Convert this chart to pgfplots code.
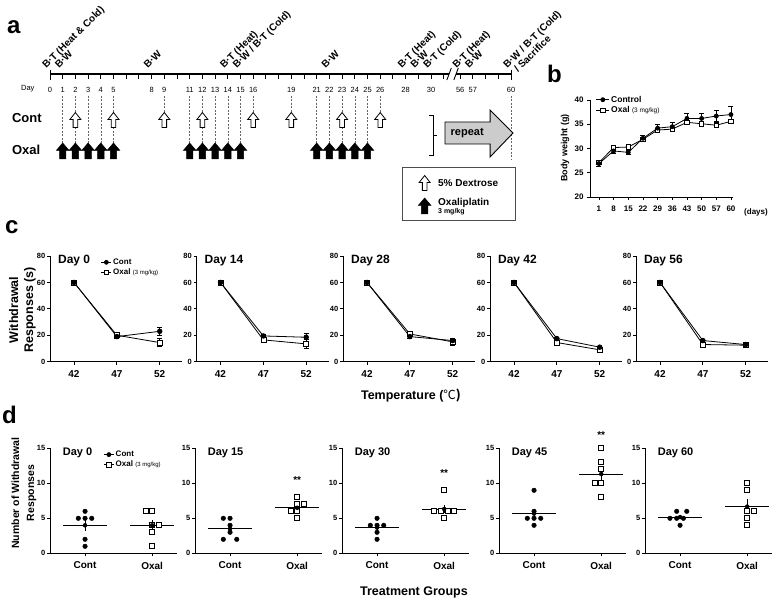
\documentclass[border=0pt]{standalone}
\usepackage{pgfplots}
\pgfplotsset{compat=1.18}
\usepackage{fontspec}
\setmainfont{Liberation Sans}
\newfontfamily\cjk{Noto Sans CJK SC}
\newcommand\fs[1]{\fontsize{#1}{#1}\selectfont}

\pgfdeclareplotmark{contarrow}{%
  \pgfpathmoveto{\pgfqpoint{0pt}{7.5pt}}%
  \pgfpathlineto{\pgfqpoint{5.5pt}{0.5pt}}%
  \pgfpathlineto{\pgfqpoint{2.3pt}{0.5pt}}%
  \pgfpathlineto{\pgfqpoint{2.3pt}{-7.5pt}}%
  \pgfpathlineto{\pgfqpoint{-2.3pt}{-7.5pt}}%
  \pgfpathlineto{\pgfqpoint{-2.3pt}{0.5pt}}%
  \pgfpathlineto{\pgfqpoint{-5.5pt}{0.5pt}}%
  \pgfpathclose\pgfusepathqfillstroke}
\pgfdeclareplotmark{oxalarrow}{%
  \pgfpathmoveto{\pgfqpoint{0pt}{8pt}}%
  \pgfpathlineto{\pgfqpoint{6.4pt}{0.5pt}}%
  \pgfpathlineto{\pgfqpoint{3.2pt}{0.5pt}}%
  \pgfpathlineto{\pgfqpoint{3.2pt}{-8pt}}%
  \pgfpathlineto{\pgfqpoint{-3.2pt}{-8pt}}%
  \pgfpathlineto{\pgfqpoint{-3.2pt}{0.5pt}}%
  \pgfpathlineto{\pgfqpoint{-6.4pt}{0.5pt}}%
  \pgfpathclose\pgfusepathqfillstroke}

\tikzset{ttl/.style={anchor=west, inner sep=0pt, font=\bfseries\fs{12}},
  rl/.style={rotate=45, anchor=base west, inner sep=0pt, font=\bfseries\fs{10}}}

\pgfplotsset{
 pr/.style={scale only axis, clip=false,
   axis x line*=bottom, axis y line*=left,
   axis line style={line width=0.8pt,-},
   every tick/.style={line width=0.8pt, black},
   tick align=outside, major tick length=3pt,
   /pgf/number format/assume math mode=true,
   legend cell align=left},
 cmk/.style={mark=*, mark size=2.3pt, mark options={solid, fill=black, draw=black}},
 omk/.style={mark=square*, mark size=2.5pt, mark options={solid, fill=white, draw=black, line width=0.7pt}},
 ebar/.style={error bars/y dir=both, error bars/y explicit,
   error bars/error bar style={line width=0.7pt, solid},
   error bars/error mark options={rotate=90, mark size=2.5pt, line width=0.7pt}},
 cl/.style={black, line width=0.8pt, cmk, forget plot, ebar},
 ol/.style={black, line width=0.8pt, omk, forget plot, ebar},
 smalleg/.style={legend image code/.code={\draw[mark repeat=2, mark phase=2, ##1] plot coordinates {(0pt,0pt)(5pt,0pt)(10pt,0pt)};}},
 cax/.style={pr, anchor=south west, width=132pt, height=105.7pt, xmin=39.2, xmax=54.6, ymin=0, ymax=80,
   xtick={42,47,52}, ytick={0,20,40,60,80},
   xticklabel style={font=\bfseries\fs{10}, yshift=-2pt},
   yticklabel style={font=\bfseries\fs{7.5}, inner sep=1.5pt}},
 dax/.style={pr, anchor=south west, width=127pt, height=105pt, xmin=0.478, xmax=2.37, ymin=0, ymax=15,
   xtick={1,2}, xticklabels={Cont,Oxal}, ytick={0,5,10,15},
   xticklabel style={font=\bfseries\fs{10}, yshift=-2pt},
   yticklabel style={font=\bfseries\fs{7.5}, inner sep=1.5pt}},
 dc/.style={only marks, cmk, forget plot},
 do/.style={only marks, omk, forget plot},
 meanl/.style={black, line width=0.8pt, no markers, forget plot},
 semb/.style={black, only marks, mark=none, forget plot, error bars/y dir=both, error bars/y explicit,
   error bars/error mark=none, error bars/error bar style={line width=0.8pt}},
}

\begin{document}
\begin{tikzpicture}
\path[use as bounding box] (0pt,0pt) rectangle (780pt,-602pt);

% ---------------- panel a ----------------
\begin{axis}[hide axis, x=12.7pt, y=1pt, xmin=-4, xmax=37, ymin=-235, ymax=0,
  anchor=north west, at={(-0.8pt,0pt)}, clip=false]
\pgfplotsinvokeforeach{1,2,3,4,5,11,12,13,14,15,21,22,23,24,25}{
  \draw[black!60, line width=0.6pt, dash pattern=on 2pt off 1.5pt] (axis cs:#1,-96) -- (axis cs:#1,-143);}
\pgfplotsinvokeforeach{9,16,19,26}{
  \draw[black!60, line width=0.6pt, dash pattern=on 2pt off 1.5pt] (axis cs:#1,-96) -- (axis cs:#1,-112);}
\draw[black!60, line width=0.6pt, dash pattern=on 2pt off 1.5pt] (axis cs:36.3,-96) -- (axis cs:36.3,-160);
\draw[line width=1.2pt] (axis cs:0,-74) -- (axis cs:31.4,-74);
\draw[line width=1.2pt] (axis cs:31.95,-74) -- (axis cs:36.3,-74);
\draw[line width=0.9pt] (axis cs:31.25,-80) -- (axis cs:31.6,-68);
\draw[line width=0.9pt] (axis cs:31.8,-80) -- (axis cs:32.15,-68);
\pgfplotsinvokeforeach{1,2,...,31}{\draw[line width=0.9pt] (axis cs:#1,-74) -- (axis cs:#1,-79);}
\pgfplotsinvokeforeach{32.3,33.3,34.3,35.3}{\draw[line width=0.9pt] (axis cs:#1,-74) -- (axis cs:#1,-79);}
\draw[line width=1pt] (axis cs:0,-70) -- (axis cs:0,-80);
\draw[line width=1pt] (axis cs:36.3,-70) -- (axis cs:36.3,-80);
\node[font=\fs{7.5}] at (axis cs:-1.75,-89) {Day};
\pgfplotsinvokeforeach{0,1,2,3,4,5,8,9,11,12,13,14,15,16,19,21,22,23,24,25,26,28,30}{
  \node[font=\fs{7.5}, inner sep=0pt] at (axis cs:#1,-90) {#1};}
\node[font=\fs{7.5}, inner sep=0pt] at (axis cs:32.3,-90) {56};
\node[font=\fs{7.5}, inner sep=0pt] at (axis cs:33.3,-90) {57};
\node[font=\fs{7.5}, inner sep=0pt] at (axis cs:36.3,-90) {60};
\node[rl] at (axis cs:-0.3,-69) {B·T (Heat \& Cold)};
\node[rl] at (axis cs:0.7,-69) {B·W};
\node[rl] at (axis cs:7.7,-69) {B·W};
\node[rl] at (axis cs:13.7,-69) {B·T (Heat)};
\node[rl] at (axis cs:14.7,-69) {B·W / B·T (Cold)};
\node[rl] at (axis cs:21.7,-69) {B·W};
\node[rl] at (axis cs:27.7,-69) {B·T (Heat)};
\node[rl] at (axis cs:28.7,-69) {B·W};
\node[rl] at (axis cs:29.7,-69) {B·T (Cold)};
\node[rl] at (axis cs:32.0,-69) {B·T (Heat)};
\node[rl] at (axis cs:33.0,-69) {B·W};
\node[rl] at (axis cs:36.0,-69) {B·W / B·T (Cold)};
\node[rl] at (axis cs:36.85,-73) {/ Sacrifice};
\node[anchor=west, inner sep=0pt, font=\bfseries\fs{13}] at (axis cs:-3,-118) {Cont};
\node[anchor=west, inner sep=0pt, font=\bfseries\fs{13}] at (axis cs:-3,-150) {Oxal};
\addplot[only marks, mark=contarrow, mark options={fill=white, draw=black, line width=0.8pt}]
  coordinates {(2,-120)(5,-120)(9,-120)(12,-120)(16,-120)(19,-120)(23,-120)(26,-120)};
\addplot[only marks, mark=oxalarrow, mark options={fill=black, draw=black, line width=0.5pt}]
  coordinates {(1,-151)(2,-151)(3,-151)(4,-151)(5,-151)(11,-151)(12,-151)(13,-151)(14,-151)(15,-151)(21,-151)(22,-151)(23,-151)(24,-151)(25,-151)};
\draw[line width=0.9pt] (axis cs:29.84,-115) -- (axis cs:30.16,-115) -- (axis cs:30.16,-155) -- (axis cs:29.84,-155);
\draw[line width=0.9pt] (axis cs:30.16,-135) -- (axis cs:30.5,-135);
\draw[fill=black!20, line width=0.9pt] (axis cs:31.1,-122) -- (axis cs:34.65,-122) -- (axis cs:34.65,-110) -- (axis cs:36.46,-133) -- (axis cs:34.65,-157) -- (axis cs:34.65,-144) -- (axis cs:31.1,-144) -- cycle;
\node[font=\bfseries\fs{11}] at (axis cs:32.85,-133) {repeat};
\draw[line width=0.8pt, black!70] (axis cs:27.77,-167) rectangle (axis cs:36.61,-220);
\addplot[only marks, mark=contarrow, mark options={fill=white, draw=black, line width=0.8pt}] coordinates {(29.5,-183)};
\addplot[only marks, mark=oxalarrow, mark options={fill=black, draw=black, line width=0.5pt}] coordinates {(29.5,-206)};
\node[anchor=west, inner sep=0pt, font=\bfseries\fs{10}] at (axis cs:30.55,-183) {5\% Dextrose};
\node[anchor=base west, inner sep=0pt, font=\bfseries\fs{10}] at (axis cs:30.55,-206) {Oxaliplatin};
\node[anchor=base west, inner sep=0pt, font=\bfseries\fs{7}] at (axis cs:30.55,-214) {3 mg/kg};
\end{axis}

% ---------------- panel b ----------------
\begin{axis}[pr, anchor=south west, at={(590pt,-197pt)}, width=143pt, height=97pt,
  xmin=-0.61, xmax=9.14, ymin=20, ymax=40, ytick={20,25,30,35,40},
  xtick={0,1,2,3,4,5,6,7,8,9}, xticklabels={1,8,15,22,29,36,43,50,57,60},
  ticklabel style={font=\bfseries\fs{8}}, xticklabel style={yshift=-2pt},
  legend image code/.code={\draw[mark repeat=2, mark phase=2, #1] plot coordinates {(0pt,0pt)(6.5pt,0pt)(13pt,0pt)};},
  legend style={at={(0.04,1.06)}, anchor=north west, draw=none, fill=none, font=\bfseries\fs{8.5}, inner sep=0pt, row sep=0pt, nodes={inner sep=1.5pt}}]
\addlegendimage{black, line width=0.8pt, mark=*, mark size=2pt, mark options={fill=black}}
\addlegendentry{Control}
\addlegendimage{black, line width=0.8pt, mark=square*, mark size=2.2pt, mark options={fill=white}}
\addlegendentry{Oxal {\fs{6.5}\mdseries(3 mg/kg)}}
\addplot[ol, mark size=2.2pt] coordinates {(0,27.1)+-(0,0.3) (1,30.2)+-(0,0.3) (2,30.3)+-(0,0.3) (3,31.9)+-(0,0.3) (4,33.8)+-(0,0.4) (5,34.0)+-(0,0.4) (6,35.4)+-(0,0.4) (7,35.1)+-(0,0.4) (8,34.8)+-(0,0.5) (9,35.6)+-(0,0.5)};
\addplot[cl, mark size=2pt] coordinates {(0,26.9)+-(0,0.5) (1,29.5)+-(0,0.5) (2,29.2)+-(0,0.4) (3,32.1)+-(0,0.7) (4,34.2)+-(0,0.8) (5,34.5)+-(0,0.8) (6,36.2)+-(0,1.0) (7,36.2)+-(0,1.0) (8,36.7)+-(0,1.2) (9,37.0)+-(0,1.6)};
\end{axis}
\node[font=\bfseries\fs{8}] at (756pt,-212pt) {(days)};
\node[rotate=90, font=\bfseries\fs{9}] at (565pt,-148pt) {Body weight (g)};

% ---------------- panel c ----------------
\begin{axis}[cax, at={(50pt,-361.7pt)}, smalleg,
  legend style={at={(0.385,0.99)}, anchor=north west, draw=none, fill=none, font=\bfseries\fs{8}, inner sep=0pt, row sep=0pt, nodes={inner sep=1.5pt}}]
\addlegendimage{black, line width=0.7pt, mark=*, mark size=2pt, mark options={fill=black}}
\addlegendentry{Cont}
\addlegendimage{black, line width=0.7pt, mark=square*, mark size=2.2pt, mark options={fill=white}}
\addlegendentry{Oxal {\fs{6}\mdseries(3 mg/kg)}}
\addplot[ol] coordinates {(42,60)+-(0,0) (47,20)+-(0,1) (52,14.5)+-(0,3)};
\addplot[cl] coordinates {(42,60)+-(0,0) (47,19)+-(0,1.5) (52,23)+-(0,3)};
\node[ttl] at (rel axis cs:0.06,0.955) {Day 0};
\end{axis}
\begin{axis}[cax, at={(196.5pt,-361.7pt)}]
\addplot[ol] coordinates {(42,60)+-(0,0) (47,16.5)+-(0,1.5) (52,13.5)+-(0,3.5)};
\addplot[cl] coordinates {(42,60)+-(0,0) (47,19.5)+-(0,1.5) (52,18.5)+-(0,3)};
\node[ttl] at (rel axis cs:0.06,0.955) {Day 14};
\end{axis}
\begin{axis}[cax, at={(343pt,-361.7pt)}]
\addplot[ol] coordinates {(42,60)+-(0,0) (47,21)+-(0,1) (52,15)+-(0,2.5)};
\addplot[cl] coordinates {(42,60)+-(0,0) (47,19)+-(0,1) (52,16)+-(0,1.5)};
\node[ttl] at (rel axis cs:0.06,0.955) {Day 28};
\end{axis}
\begin{axis}[cax, at={(490pt,-361.7pt)}]
\addplot[ol] coordinates {(42,60)+-(0,0) (47,14.5)+-(0,1) (52,9)+-(0,1)};
\addplot[cl] coordinates {(42,60)+-(0,0) (47,17.5)+-(0,1) (52,11)+-(0,0.8)};
\node[ttl] at (rel axis cs:0.06,0.955) {Day 42};
\end{axis}
\begin{axis}[cax, at={(636pt,-361.7pt)}]
\addplot[ol] coordinates {(42,60)+-(0,0) (47,13)+-(0,1) (52,12.5)+-(0,0.8)};
\addplot[cl] coordinates {(42,60)+-(0,0) (47,16)+-(0,1) (52,13)+-(0,0.8)};
\node[ttl] at (rel axis cs:0.06,0.955) {Day 56};
\end{axis}
\node[rotate=90, align=center, font=\bfseries\fontsize{12.5}{15}\selectfont] at (22.5pt,-310pt) {Withdrawal\\Responses (s)};
\node[font=\bfseries\fs{12.5}] at (411pt,-396pt) {Temperature (\cjk\mdseries ℃\bfseries)};

% ---------------- panel d ----------------
\begin{axis}[dax, at={(50pt,-553.3pt)}, smalleg,
  legend style={at={(0.42,0.99)}, anchor=north west, draw=none, fill=none, font=\bfseries\fs{8}, inner sep=0pt, row sep=0pt, nodes={inner sep=1.5pt}}]
\addlegendimage{black, line width=0.7pt, mark=*, mark size=2pt, mark options={fill=black}}
\addlegendentry{Cont}
\addlegendimage{black, line width=0.7pt, mark=square*, mark size=2.2pt, mark options={fill=white}}
\addlegendentry{Oxal {\fs{6}\mdseries(3 mg/kg)}}
\addplot[dc] coordinates {(1,6)(0.9,5)(1,5)(1.1,5)(1,2)(1,1)};
\addplot[do] coordinates {(1.9,6)(2.0,6)(2.0,4)(2.1,4)(2.0,3)(2.0,1)};
\addplot[meanl] coordinates {(0.67,4)(1.33,4)};
\addplot[meanl] coordinates {(1.67,4)(2.33,4)};
\addplot[semb] coordinates {(1,4)+-(0,0.82) (2,4)+-(0,0.77)};
\node[ttl, font=\bfseries\fs{11}] at (rel axis cs:0.1,0.955) {Day 0};
\end{axis}
\begin{axis}[dax, at={(195pt,-553.3pt)}]
\addplot[dc] coordinates {(0.9,5)(1.0,5)(1.0,4)(1.0,3)(0.9,2)(1.1,2)};
\addplot[do] coordinates {(2,8)(2,7)(2.1,7)(1.9,6)(2,6)(2,5)};
\addplot[meanl] coordinates {(0.67,3.5)(1.33,3.5)};
\addplot[meanl] coordinates {(1.67,6.5)(2.33,6.5)};
\addplot[semb] coordinates {(1,3.5)+-(0,0.56) (2,6.5)+-(0,0.43)};
\node[ttl, font=\bfseries\fs{11}] at (rel axis cs:0.1,0.955) {Day 15};
\node[font=\bfseries\fs{10}] at (axis cs:2,10.5) {**};
\end{axis}
\begin{axis}[dax, at={(342pt,-553.3pt)}]
\addplot[dc] coordinates {(1,5)(0.9,4)(1,4)(1.1,4)(1,3)(1,2)};
\addplot[do] coordinates {(2,9)(1.85,6)(1.95,6)(2.05,6)(2.15,6)(2,5)};
\addplot[meanl] coordinates {(0.67,3.67)(1.33,3.67)};
\addplot[meanl] coordinates {(1.67,6.33)(2.33,6.33)};
\addplot[semb] coordinates {(1,3.67)+-(0,0.42) (2,6.33)+-(0,0.56)};
\node[ttl, font=\bfseries\fs{11}] at (rel axis cs:0.1,0.955) {Day 30};
\node[font=\bfseries\fs{10}] at (axis cs:2,11.5) {**};
\end{axis}
\begin{axis}[dax, at={(499pt,-553.3pt)}]
\addplot[dc] coordinates {(1,9)(1,6)(0.9,5)(1,5)(1.1,5)(1,4)};
\addplot[do] coordinates {(2,15)(2,13)(2,12)(1.9,10)(2,10)(2,8)};
\addplot[meanl] coordinates {(0.67,5.67)(1.33,5.67)};
\addplot[meanl] coordinates {(1.67,11.33)(2.33,11.33)};
\addplot[semb] coordinates {(1,5.67)+-(0,0.71) (2,11.33)+-(0,1.02)};
\node[ttl, font=\bfseries\fs{11}] at (rel axis cs:0.1,0.955) {Day 45};
\node[font=\bfseries\fs{10}] at (axis cs:2,16.9) {**};
\end{axis}
\begin{axis}[dax, at={(645pt,-553.3pt)}]
\addplot[dc] coordinates {(0.95,6)(1.1,6)(0.85,5)(0.95,5)(1.05,5)(1,4)};
\addplot[do] coordinates {(2,10)(2,9)(2,6)(2.1,6)(2,5)(2,4)};
\addplot[meanl] coordinates {(0.67,5.17)(1.33,5.17)};
\addplot[meanl] coordinates {(1.67,6.67)(2.33,6.67)};
\addplot[semb] coordinates {(1,5.17)+-(0,0.31) (2,6.67)+-(0,1.1)};
\node[ttl, font=\bfseries\fs{11}] at (rel axis cs:0.1,0.955) {Day 60};
\end{axis}
\node[rotate=90, align=center, font=\bfseries\fontsize{10.5}{15}\selectfont] at (24pt,-493pt) {Number of Withdrawal\\Responses};
\node[font=\bfseries\fs{12.5}] at (414pt,-592pt) {Treatment Groups};

\node[anchor=base west, inner sep=0pt, font=\bfseries\fs{24}] at (7pt,-34pt) {a};
\node[anchor=base west, inner sep=0pt, font=\bfseries\fs{24}] at (547pt,-83pt) {b};
\node[anchor=base west, inner sep=0pt, font=\bfseries\fs{24}] at (5pt,-233pt) {c};
\node[anchor=base west, inner sep=0pt, font=\bfseries\fs{24}] at (2pt,-423pt) {d};
\end{tikzpicture}
\end{document}
